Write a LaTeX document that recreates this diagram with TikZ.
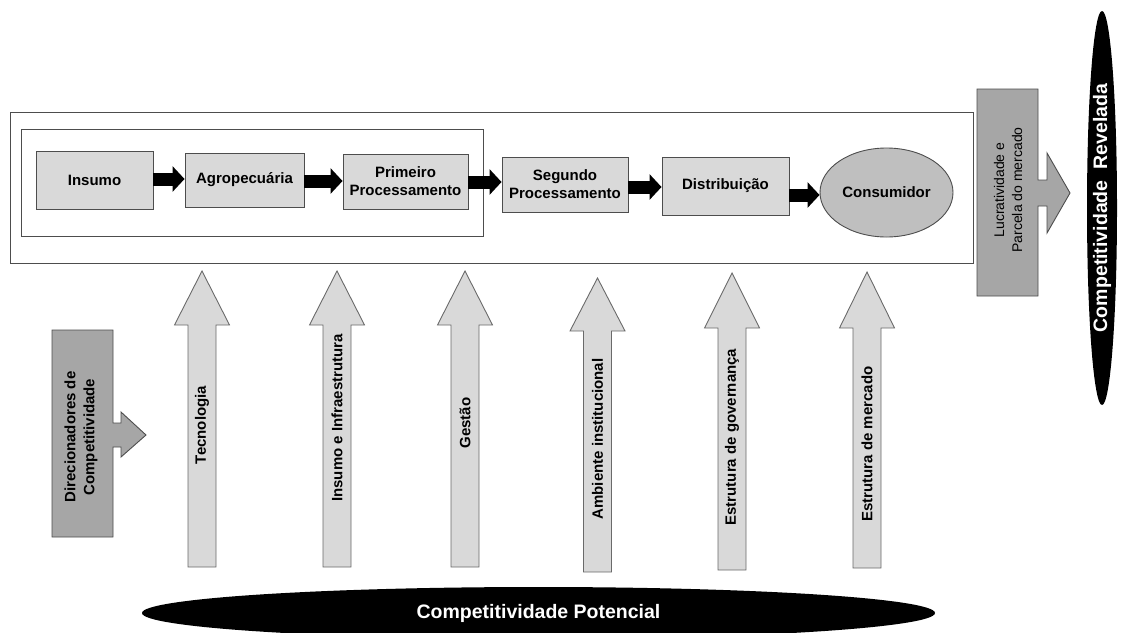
\documentclass[tikz,border=0pt]{standalone}
\usepackage{fontspec}
\setmainfont{Liberation Sans}
\usetikzlibrary{arrows.meta,shapes.geometric}

\definecolor{boxfill}{HTML}{D9D9D9}
\definecolor{darkfill}{HTML}{A6A6A6}
\definecolor{consfill}{HTML}{BFBFBF}
\definecolor{edge}{HTML}{4D4D4D}
\definecolor{pillaredge}{HTML}{6A6A6A}

% upward block arrow: name, centre x, tip y, head base y, foot y, label, label y
\newcommand{\drawpillar}[7]{%
  \draw[pillar] (#2-14,#5) -- (#2-14,#4) -- (#2-27.5,#4) -- (#2,#3)
        -- (#2+27.5,#4) -- (#2+14,#4) -- (#2+14,#5) -- cycle;
  \node[pillarlabel] (#1) at (#2,#7) {#6};}

\begin{document}
\begin{tikzpicture}[x=1pt,y=-1pt,
  frame/.style={draw=edge, line width=0.9pt},
  stage/.style={draw=edge, line width=0.9pt, fill=boxfill, inner sep=0pt,
                align=center, font=\fontsize{15}{18}\selectfont\bfseries},
  flow/.style={line width=13pt, -{Triangle[width=25pt,length=12pt]}},
  pillar/.style={draw=pillaredge, line width=0.9pt, fill=boxfill},
  pillarlabel/.style={rotate=90, inner sep=0pt,
                      font=\fontsize{15}{18}\selectfont\bfseries},
  driver/.style={draw=edge, line width=0.9pt, fill=darkfill},
  outcome/.style={ellipse, fill=black, inner sep=0pt, text=white,
                  font=\fontsize{19.5}{22}\selectfont\bfseries}
]
\useasboundingbox (0,0) rectangle (1121,632);

% chain frames
\draw[frame] (10,112) rectangle (973,263);
\draw[frame] (21,129) rectangle (483,236);

% chain stages
\node[stage, minimum width=117pt, minimum height=58pt] (ins) at (94.5,180) {Insumo};
\node[stage, minimum width=119pt, minimum height=54pt] (agr) at (244.5,180) {Agropecuária};
\node[stage, minimum width=125pt, minimum height=55pt] (pri) at (405.5,181.5) {Primeiro\\Processamento};
\node[stage, minimum width=126pt, minimum height=55pt] (seg) at (565,184.5) {Segundo\\Processamento};
\node[stage, minimum width=127pt, minimum height=58pt] (dis) at (725.5,186) {Distribuição};
\node[stage, ellipse, fill=consfill, minimum width=133pt, minimum height=89pt] (con) at (886.5,192.5) {Consumidor};

% flow levels
\coordinate (l1) at (0,179);
\coordinate (l2) at (0,181);
\coordinate (l3) at (0,182);
\coordinate (l4) at (0,187);
\coordinate (l5) at (0,195);

\draw[flow] (ins.east |- l1) -- (agr.west |- l1);
\draw[flow] (agr.east |- l2) -- (pri.west |- l2);
\draw[flow] (pri.east |- l3) -- (seg.west |- l3);
\draw[flow] (seg.east |- l4) -- (dis.west |- l4);
\draw[flow] (dis.east |- l5) -- (con.west |- l5);

% competitiveness drivers
\drawpillar{tec}{202}{271}{325}{567}{Tecnologia}{425}
\drawpillar{inf}{337}{271}{325}{567}{Insumo e Infraestrutura}{418}
\drawpillar{ges}{465}{271}{325}{567}{Gestão}{423}
\drawpillar{amb}{597.5}{278}{331}{572}{Ambiente institucional}{439}
\drawpillar{gov}{732}{273}{328}{570}{Estrutura de governança}{437}
\drawpillar{mer}{867}{272}{328}{568}{Estrutura de mercado}{444}

% left driver box with its arrow
\draw[driver] (52,330) -- (113,330) -- (113,423) -- (121,423) -- (121,412)
  -- (146,435) -- (121,457) -- (121,447) -- (113,447) -- (113,537) -- (52,537) -- cycle;
\node[rotate=90, align=center, inner sep=0pt,
      font=\fontsize{15}{19}\selectfont\bfseries] (drv) at (81,437)
  {Direcionadores de\\Competitividade};

% right result box with its arrow
\draw[driver] (977,89) -- (1038,89) -- (1038,180) -- (1047,180) -- (1047,153)
  -- (1070,193) -- (1047,233) -- (1047,206) -- (1038,206) -- (1038,296) -- (977,296) -- cycle;
\node[rotate=90, align=center, inner sep=0pt,
      font=\fontsize{14}{18}\selectfont] (lucro) at (1008,190)
  {Lucratividade e\\Parcela do mercado};

% outcomes
\node[outcome, rotate=90, minimum width=394pt, minimum height=30pt] (rev) at (1102,208)
  {Competitividade~~Revelada};
\node[outcome, minimum width=793pt, minimum height=52pt] (pot) at (538.5,613)
  {Competitividade Potencial};
\end{tikzpicture}
\end{document}
